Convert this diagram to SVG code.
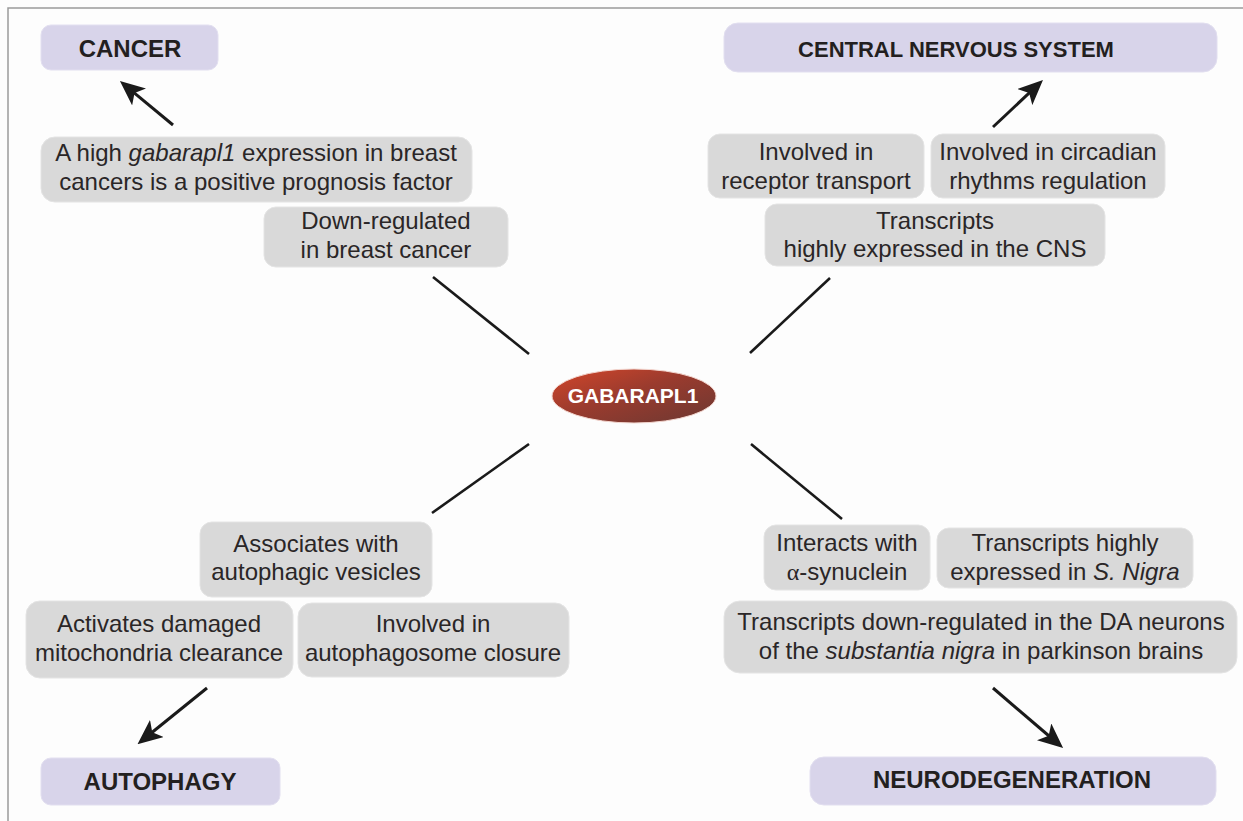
<svg xmlns="http://www.w3.org/2000/svg" width="1243" height="821" viewBox="0 0 1243 821">
<defs>
<style>
.bg{fill:#fdfdfd}
.frame{stroke:#9a9a9a;stroke-width:1.5;fill:none}
.box{fill:#d9d9d9;stroke:#e4e4e4;stroke-width:1}
.cat{fill:#d8d4ea;stroke:#e2dff0;stroke-width:1}
.t{font-family:"Liberation Sans",Arial,sans-serif;font-size:24px;fill:#2a2627;text-anchor:middle}
.h{font-family:"Liberation Sans",Arial,sans-serif;font-size:24px;font-weight:bold;fill:#231f20;text-anchor:middle}
.link{stroke:#1a1a1a;stroke-width:2.6;fill:none}
.arr{stroke:#1a1a1a;stroke-width:3;fill:none;marker-end:url(#ah)}
.i{font-style:italic}
</style>
<marker id="ah" viewBox="0 0 25 22" refX="8" refY="11" markerWidth="25" markerHeight="22" markerUnits="userSpaceOnUse" orient="auto">
<path d="M0,0 L25,11 L0,22 L6,11 z" fill="#1a1a1a"/>
</marker>
<linearGradient id="eg" x1="0" y1="0" x2="1" y2="1">
<stop offset="0" stop-color="#d4462a"/>
<stop offset="0.45" stop-color="#9a3b2e"/>
<stop offset="1" stop-color="#6b3832"/>
</linearGradient>
</defs>
<rect class="bg" x="0" y="0" width="1243" height="821"/>
<path class="frame" d="M8,821 L8,8 L1243,8"/>

<g id="connectors">
<line class="link" x1="433" y1="277" x2="529" y2="354"/>
<line class="link" x1="830" y1="278" x2="750" y2="353"/>
<line class="link" x1="529" y1="444" x2="432" y2="513"/>
<line class="link" x1="751" y1="444" x2="842" y2="519"/>
<line class="arr" x1="173" y1="125" x2="133" y2="91.8"/>
<line class="arr" x1="993" y1="127" x2="1030.6" y2="91.6"/>
<line class="arr" x1="207" y1="688" x2="150.7" y2="733.5"/>
<line class="arr" x1="993" y1="688" x2="1050.2" y2="737"/>
</g>

<g id="gabarapl1">
<ellipse cx="634" cy="396" rx="82" ry="27" fill="url(#eg)" stroke="#f3d6cf" stroke-width="1"/>
<text x="633" y="403" style="font-family:'Liberation Sans',Arial,sans-serif;font-size:21px;font-weight:bold;fill:#ffffff;text-anchor:middle">GABARAPL1</text>
</g>

<g id="cancer">
<rect class="cat" x="41" y="25" width="177" height="45" rx="10"/>
<text class="h" x="130" y="57">CANCER</text>
</g>
<g id="prognosis">
<rect class="box" x="41" y="137" width="431" height="65" rx="14"/>
<text class="t" x="256" y="161">A high <tspan class="i">gabarapl1</tspan> expression in breast</text>
<text class="t" x="256" y="190">cancers is a positive prognosis factor</text>
</g>
<g id="downreg">
<rect class="box" x="264" y="207" width="244" height="60" rx="12"/>
<text class="t" x="386" y="229">Down-regulated</text>
<text class="t" x="386" y="258">in breast cancer</text>
</g>

<g id="cns">
<rect class="cat" x="724" y="23" width="493" height="49" rx="14"/>
<text class="h" x="956" y="57" style="font-size:22px">CENTRAL NERVOUS SYSTEM</text>
</g>
<g id="receptor">
<rect class="box" x="708" y="134" width="216" height="64" rx="12"/>
<text class="t" x="816" y="160">Involved in</text>
<text class="t" x="816" y="189">receptor transport</text>
</g>
<g id="circadian">
<rect class="box" x="931" y="134" width="234" height="64" rx="12"/>
<text class="t" x="1048" y="160">Involved in circadian</text>
<text class="t" x="1048" y="189">rhythms regulation</text>
</g>
<g id="cnsexpr">
<rect class="box" x="765" y="204" width="340" height="62" rx="12"/>
<text class="t" x="935" y="229">Transcripts</text>
<text class="t" x="935" y="257">highly expressed in the CNS</text>
</g>

<g id="vesicles">
<rect class="box" x="200" y="522" width="232" height="75" rx="12"/>
<text class="t" x="316" y="552">Associates with</text>
<text class="t" x="316" y="580">autophagic vesicles</text>
</g>
<g id="mito">
<rect class="box" x="26" y="601" width="267" height="77" rx="14"/>
<text class="t" x="159" y="632">Activates damaged</text>
<text class="t" x="159" y="661">mitochondria clearance</text>
</g>
<g id="closure">
<rect class="box" x="298" y="603" width="271" height="74" rx="14"/>
<text class="t" x="433" y="632">Involved in</text>
<text class="t" x="433" y="661">autophagosome closure</text>
</g>
<g id="autophagy">
<rect class="cat" x="41" y="758" width="239" height="47" rx="10"/>
<text class="h" x="160" y="790">AUTOPHAGY</text>
</g>

<g id="synuclein">
<rect class="box" x="764" y="525" width="166" height="65" rx="12"/>
<text class="t" x="847" y="551">Interacts with</text>
<text class="t" x="847" y="580"><tspan style="font-family:'Liberation Serif',serif">α</tspan>-synuclein</text>
</g>
<g id="snigra">
<rect class="box" x="937" y="528" width="256" height="60" rx="12"/>
<text class="t" x="1065" y="551">Transcripts highly</text>
<text class="t" x="1065" y="580">expressed in <tspan class="i">S. Nigra</tspan></text>
</g>
<g id="parkinson">
<rect class="box" x="724" y="601" width="513" height="72" rx="16"/>
<text class="t" x="981" y="630">Transcripts down-regulated in the DA neurons</text>
<text class="t" x="981" y="659">of the <tspan class="i">substantia nigra</tspan> in parkinson brains</text>
</g>
<g id="neurodegeneration">
<rect class="cat" x="810" y="757" width="406" height="48" rx="14"/>
<text class="h" x="1012" y="788">NEURODEGENERATION</text>
</g>
</svg>
